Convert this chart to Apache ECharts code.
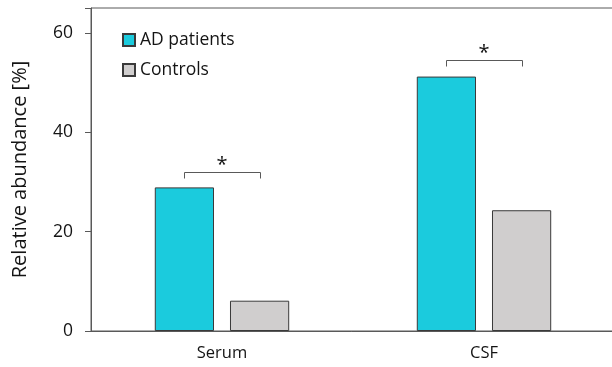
<!DOCTYPE html>
<html>
<head>
<meta charset="utf-8">
<script src="https://cdn.jsdelivr.net/npm/echarts@6/dist/echarts.min.js"></script>
<style>
  html, body { margin: 0; padding: 0; background: #fff; }
  #chart { width: 612px; height: 367px; }
</style>
</head>
<body>
<div id="chart"></div>
<script>
// Relative abundance by sample type
const categories = ['Serum', 'CSF'];
const adPatients = [28.9, 51.2];
const controls = [6.1, 24.3];
// Significance bracket heights and their markers
const bracketLevels = [32, 54.5];
const bracketMarks = ['*', '*'];
const yTicks = [0, 20, 40, 60];

const FONT = '"Open Sans", "Noto Sans", sans-serif';
const AXIS = '#595959';
const TEXT = '#141414';
const BAR_W = 0.226;   // bar width as a fraction of a category band
const BAR_GAP = 0.27;  // gap between paired bars relative to bar width

const chart = echarts.init(document.getElementById('chart'), null, { renderer: 'canvas' });

chart.setOption({
  animation: false,
  textStyle: { fontFamily: FONT },
  grid: {
    left: 91, right: -3, top: 8, bottom: 36,
    containLabel: false,
    outerBoundsMode: 'none',
    show: true, borderColor: AXIS, borderWidth: 1
  },
  legend: {
    orient: 'vertical',
    left: 122, top: 31,
    padding: 0,
    itemWidth: 12, itemHeight: 12,
    itemGap: 12,
    icon: 'rect',
    textStyle: { fontFamily: FONT, fontSize: 17.5, color: TEXT },
    data: ['AD patients', 'Controls']
  },
  xAxis: {
    type: 'category',
    data: categories,
    axisLine: { lineStyle: { color: AXIS, width: 1 } },
    axisTick: { show: false },
    axisLabel: { fontFamily: FONT, fontSize: 16.5, color: TEXT, margin: 14 }
  },
  yAxis: {
    type: 'value',
    min: 0, max: 65, interval: 20,
    name: 'Relative abundance [%]',
    nameLocation: 'middle',
    nameGap: 61,
    nameTextStyle: { fontFamily: FONT, fontSize: 20, color: TEXT },
    axisLine: { show: true, lineStyle: { color: AXIS, width: 1 } },
    axisTick: { show: true, length: 6, lineStyle: { color: AXIS } },
    axisLabel: {
      fontFamily: FONT, fontSize: 17.5, color: TEXT, margin: 18,
      formatter: v => (yTicks.indexOf(v) >= 0 ? String(v) : '')
    },
    splitLine: { show: false }
  },
  series: [
    {
      name: 'AD patients',
      type: 'bar',
      data: adPatients,
      barWidth: (BAR_W * 100) + '%',
      barGap: (BAR_GAP * 100) + '%',
      itemStyle: { color: '#1BCBDD', borderColor: '#3a3a3a', borderWidth: 1 }
    },
    {
      name: 'Controls',
      type: 'bar',
      data: controls,
      barWidth: (BAR_W * 100) + '%',
      barGap: (BAR_GAP * 100) + '%',
      itemStyle: { color: '#D0CECE', borderColor: '#3a3a3a', borderWidth: 1 }
    },
    {
      name: 'significance',
      type: 'custom',
      silent: true,
      data: categories.map((c, i) => [i, bracketLevels[i]]),
      renderItem: function (params, api) {
        const i = api.value(0);
        const p = api.coord([i, api.value(1)]);
        const band = api.size([1, 0])[0];
        const off = band * BAR_W * (1 + BAR_GAP) / 2;
        const x0 = Math.round(p[0] - off) + 0.5;
        const x1 = Math.round(p[0] + off) + 0.5;
        const y = Math.round(p[1]) + 0.5;
        return {
          type: 'group',
          children: [
            {
              type: 'polyline',
              shape: { points: [[x0, y + 6], [x0, y], [x1, y], [x1, y + 6]] },
              style: { stroke: AXIS, lineWidth: 1, fill: null }
            },
            {
              type: 'text',
              style: {
                text: bracketMarks[i],
                x: p[0], y: y + 3,
                align: 'center', verticalAlign: 'bottom',
                font: '20px ' + FONT, fill: TEXT
              }
            }
          ]
        };
      }
    }
  ]
});
</script>
</body>
</html>
